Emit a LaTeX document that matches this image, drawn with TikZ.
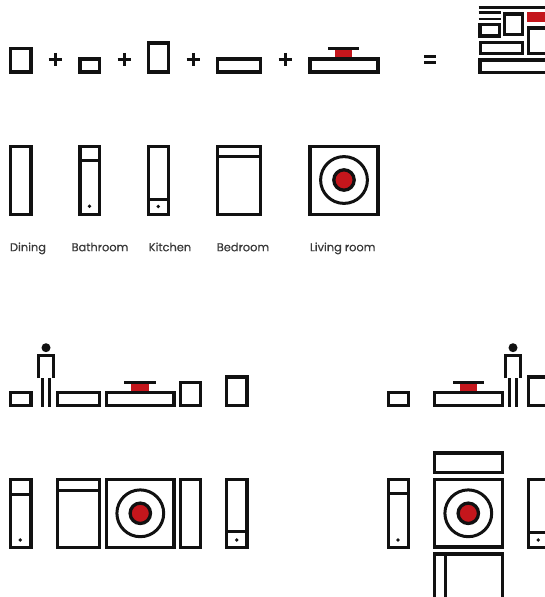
\documentclass[tikz,border=0pt]{standalone}
\usepackage{fontspec}
\setmainfont{Poppins}[FakeBold=0.5]
\definecolor{ink}{HTML}{111111}
\definecolor{redfill}{HTML}{C4161C}
\definecolor{labelink}{HTML}{3A3A3A}
\tikzset{
  wall/.style={draw=ink,line width=3.2pt,fill=white},
  rule/.style={draw=ink,line width=3pt},
  thin rule/.style={draw=ink,line width=2.8pt},
  redblock/.style={fill=redfill,draw=none},
  dotmark/.style={fill=ink,draw=none},
  caption/.style={text=labelink,font=\fontsize{11.4pt}{13pt}\selectfont,inner sep=0pt,anchor=base}
}
\newcommand{\target}[2]{%
  \fill[redfill] (#1,#2) circle (10);
  \draw[ink,line width=3.3pt] (#1,#2) circle (10.2);
  \draw[ink,line width=3pt] (#1,#2) circle (23.4);
}
\newcommand{\tablesign}[3]{% left, right, y of line
  \fill[redblock] ({(#1+#2)/2-8.7},#3-1) rectangle ({(#1+#2)/2+8.7},#3+9.2);
  \draw[thin rule] (#1,#3) -- (#2,#3);
}
\newcommand{\person}[1]{%
  \fill[ink] (#1,347.7) circle (4.5);
  \draw[rule] (#1-7.6,378) -- (#1-7.6,355.3) -- (#1+7.6,355.3) -- (#1+7.6,378);
  \draw[rule] (#1-3.5,378) -- (#1-3.5,407);
  \draw[rule] (#1+3.5,378) -- (#1+3.5,407);
}
\begin{document}
\begin{tikzpicture}[x=1pt,y=-1pt]
\useasboundingbox (0,0) rectangle (545,597);
\clip (0,0) rectangle (545,597);
% first row
\draw[wall] (10.5,48.5) rectangle (31,72);
\draw[wall] (80,59) rectangle (99.5,72);
\draw[wall] (148.5,43) rectangle (168.7,72);
\draw[wall] (217.3,59) rectangle (260.7,72);
\tablesign{328}{359.3}{48.7}
\draw[wall] (310,59) rectangle (378,72);
\foreach \px in {55,124,193,285}{
  \draw[rule] (\px-6.5,59.3) -- (\px+6.5,59.3);
  \draw[rule] (\px,52.8) -- (\px,65.8);
}
\draw[rule] (424,56) -- (436,56);
\draw[rule] (424,62.7) -- (436,62.7);
% composite
\draw[rule] (478.5,7) -- (545,7);
\draw[thin rule] (478.5,12.7) -- (500.7,12.7);
\draw[thin rule] (478.5,19) -- (500.7,19);
\draw[wall] (480,24.5) rectangle (499.5,36);
\draw[wall] (504.7,14) rectangle (522.7,34.8);
\draw[wall] (480.5,42.5) rectangle (522.7,53.5);
\fill[redblock] (527,11.7) rectangle (545,22);
\draw[wall] (528.5,28) rectangle (560,53.5);
\draw[wall] (480,60) rectangle (560,72.7);
% second row
\draw[wall] (10.5,146.3) rectangle (31,214.3);
\draw[wall] (80,146.3) rectangle (99.5,214.3);
\draw[rule] (80,160.3) -- (99.5,160.3);
\fill[dotmark] (89.5,206.3) circle (1.9);
\draw[wall] (148.5,146.3) rectangle (168.7,214.3);
\draw[rule] (148.5,199.3) -- (168.7,199.3);
\fill[dotmark] (158.3,206.5) circle (1.9);
\draw[wall] (217.7,146.3) rectangle (260.7,214.3);
\draw[rule] (217.7,156.7) -- (260.7,156.7);
\draw[wall] (310,146.3) rectangle (378,214.3);
\target{344}{180}
\node[caption] (dining) at (28,251.2) {Dining};
\node[caption] (bathroom) at (100,251.2) {Bathroom};
\node[caption] (kitchen) at (170,251.2) {Kitchen};
\node[caption] (bedroom) at (243,251.2) {Bedroom};
\node[caption] (living) at (342.7,251.2) {Living room};
% third row, left
\draw[wall] (10.5,392.3) rectangle (31,405.5);
\person{46}
\draw[wall] (57.3,392.3) rectangle (99.5,405.5);
\tablesign{124.3}{155.7}{382.7}
\draw[wall] (106.5,392.3) rectangle (174,405.5);
\draw[wall] (180.3,382.3) rectangle (200.7,405.5);
\draw[wall] (226.7,377) rectangle (247,405.5);
% third row, right
\draw[wall] (388.3,392.3) rectangle (408.3,405.5);
\tablesign{453}{484.3}{382.7}
\draw[wall] (434.3,392.3) rectangle (502.3,405.5);
\person{513}
\draw[wall] (528.7,377) rectangle (560,405.5);
% fourth row, left
\draw[wall] (10.5,479.5) rectangle (31,547.5);
\draw[rule] (10.5,494) -- (31,494);
\fill[dotmark] (20.3,540) circle (1.9);
\draw[wall] (57.3,479.5) rectangle (99.5,547.5);
\draw[rule] (57.3,490) -- (99.5,490);
\draw[wall] (106.5,479.5) rectangle (174,547.5);
\target{140.3}{513.3}
\draw[wall] (180.5,479.5) rectangle (200.7,547.5);
\draw[wall] (226.7,479.5) rectangle (247,547.5);
\draw[rule] (226.7,531.7) -- (247,531.7);
\fill[dotmark] (236.7,540) circle (1.9);
% fourth row, right
\draw[wall] (388.3,479.5) rectangle (408.3,547.5);
\draw[rule] (388.3,493.5) -- (408.3,493.5);
\fill[dotmark] (398,540) circle (1.9);
\draw[wall] (434.5,453) rectangle (502.5,472.5);
\draw[wall] (434.5,479.5) rectangle (502.5,547);
\target{468.3}{513.3}
\draw[wall] (528.7,479.5) rectangle (560,547.5);
\draw[rule] (528.7,532) -- (560,532);
\fill[dotmark] (538.3,540) circle (1.9);
\draw[wall] (434.5,554) rectangle (502.5,620);
\draw[rule] (445.7,554) -- (445.7,620);
\end{tikzpicture}
\end{document}
